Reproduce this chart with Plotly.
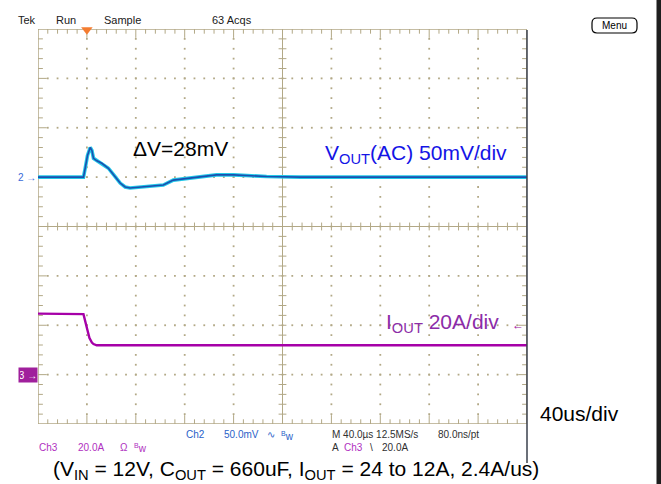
import plotly.graph_objects as go

# ---------------- data ----------------
vout_time_us = [-40, -2.8, -1.4, 0.5, 2.7, 4.1, 5.4, 8.2, 12.2, 17.6, 23.1, 27.2, 31.3,
                35.3, 49, 62.5, 70.7, 89.8, 106, 120, 147, 175, 360]
vout_mV = [0, 0, 9, 22, 30, 27, 19, 16.5, 14, 9, 0.5, -6, -10,
           -11, -9.5, -8, -3, -0.5, 2.3, 2.3, 0.6, 0, 0]

iout_time_us = [-40, -2.8, 0, 2.1, 4.1, 5.4, 8, 360]
iout_A = [24.7, 24.5, 18.9, 14.8, 13.0, 12.4, 11.9, 11.9]

# scope settings
time_per_div_us = 40
trigger_div = 1
vout_mV_per_div = 50
vout_offset_div = 1
iout_A_per_div = 20
iout_offset_div = -3
trig_level_A = 20
n_xdiv, n_ydiv = 10, 8

# ---------------- layout geometry ----------------
W, H = 661, 484
L, R, T, B = 38, 134, 29, 60
PW, PH = W - L - R, H - T - B

def px(x, y):
    return (x - L) / PW, (H - B - y) / PH

TAN = "#b2a886"
FONT = "Liberation Sans, Arial, sans-serif"

# ---------------- graticule (division units) ----------------
gx, gy = [], []
def seg(x0, y0, x1, y1):
    gx.extend([x0, x1, None]); gy.extend([y0, y1, None])

xmaj_len_y, xmin_len_y = 0.18, 0.095
ymaj_len_x, ymin_len_x = 0.18, 0.10
for k in range(1, n_xdiv * 5):
    x = k * 0.2
    ly = xmaj_len_y if k % 5 == 0 else xmin_len_y
    seg(x, 4, x, 4 - ly)
    seg(x, -4, x, -4 + ly)
    seg(x, -0.08, x, 0.08)
for j in range(1, n_ydiv * 5):
    y = -4 + j * 0.2
    lx = ymaj_len_x if j % 5 == 0 else ymin_len_x
    seg(0, y, lx, y)
    seg(10, y, 10 - lx, y)
    seg(5 - 0.08, y, 5 + 0.08, y)
seg(5, -4, 5, 4)
seg(0, 0, 10, 0)

bx = [0, 10, 10, 0, 0]
by = [-4, -4, 4, 4, -4]

dx, dy = [], []
for xv in range(1, n_xdiv):
    if xv == 5:
        continue
    for j in range(1, n_ydiv * 5):
        dx.append(xv); dy.append(-4 + j * 0.2)
for yv in range(-3, 4):
    if yv == 0:
        continue
    for k in range(1, n_xdiv * 5):
        dx.append(k * 0.2); dy.append(yv)

fig = go.Figure()
fig.add_trace(go.Scatter(x=dx, y=dy, mode="markers", xaxis="x", yaxis="y",
                         marker=dict(size=1.8, color=TAN, symbol="square"),
                         hoverinfo="skip", showlegend=False))
fig.add_trace(go.Scatter(x=gx, y=gy, mode="lines", xaxis="x", yaxis="y",
                         line=dict(color=TAN, width=1), cliponaxis=False,
                         hoverinfo="skip", showlegend=False))
fig.add_trace(go.Scatter(x=bx, y=by, mode="lines", xaxis="x", yaxis="y",
                         line=dict(color=TAN, width=1.5), cliponaxis=False,
                         hoverinfo="skip", showlegend=False))
# trigger position marker
fig.add_trace(go.Scatter(x=[trigger_div], y=[3.985], mode="markers", xaxis="x", yaxis="y",
                         marker=dict(symbol="triangle-down", size=10, color="#f47c30"),
                         cliponaxis=False, hoverinfo="skip", showlegend=False))

# ---------------- waveforms ----------------
fig.add_trace(go.Scatter(x=vout_time_us, y=vout_mV, mode="lines", xaxis="x2", yaxis="y2",
                         line=dict(color="#22c8e8", width=3.6), showlegend=False))
fig.add_trace(go.Scatter(x=vout_time_us, y=vout_mV, mode="lines", xaxis="x2", yaxis="y2",
                         line=dict(color="#1a4fb0", width=1.6), showlegend=False))
fig.add_trace(go.Scatter(x=iout_time_us, y=iout_A, mode="lines", xaxis="x2", yaxis="y3",
                         line=dict(color="#a600a8", width=2.4), showlegend=False))

t0 = -trigger_div * time_per_div_us
vlo = (-4 - vout_offset_div) * vout_mV_per_div
ilo = (-4 - iout_offset_div) * iout_A_per_div
hidden = dict(showgrid=False, zeroline=False, showticklabels=False, ticks="", showline=False)
fig.update_layout(
    width=W, height=H, margin=dict(l=L, r=R, t=T, b=B),
    paper_bgcolor="white", plot_bgcolor="white",
    xaxis=dict(range=[0, n_xdiv], **hidden),
    yaxis=dict(range=[-4, 4], **hidden),
    xaxis2=dict(range=[t0, t0 + n_xdiv * time_per_div_us], overlaying="x", anchor="y2", **hidden),
    yaxis2=dict(range=[vlo, vlo + n_ydiv * vout_mV_per_div], overlaying="y", anchor="x2", **hidden),
    yaxis3=dict(range=[ilo, ilo + n_ydiv * iout_A_per_div], overlaying="y", anchor="x2", **hidden),
    showlegend=False,
)

# ---------------- text ----------------
ann = []
def text(s, x, y, size, color="#000000", xanchor="left", **kw):
    xp, yp = px(x, y)
    ann.append(dict(text=s, x=xp, y=yp, xref="paper", yref="paper", xanchor=xanchor,
                    yanchor="middle", showarrow=False,
                    font=dict(family=FONT, size=size, color=color), **kw))

# header
for s, x in [("Tek", 16), ("Run", 54), ("Sample", 102), ("63 Acqs", 210)]:
    text(s, x, 20, 11, "#202020")
text("Menu", 614.5, 26, 10, "#000000", xanchor="center")

# big labels
text("ΔV=28mV", 131, 148, 21)
text("V<sub>OUT</sub>(AC) 50mV/div", 323, 154, 21, "#1414e6")
text("I<sub>OUT</sub> 20A/div", 384, 323, 21, "#8c2ca8")
text("40us/div", 538, 413, 21)
text("(V<sub>IN</sub> = 12V, C<sub>OUT</sub> = 660uF, I<sub>OUT</sub> = 24 to 12A, 2.4A/us)",
     51, 470, 21)

# scope readouts
BL = "#2a5fc8"; PU = "#b030c0"; DK = "#303030"
text("Ch2", 184, 435, 10, BL)
text("50.0mV", 222, 435, 10, BL)
text("∿", 265, 435, 10, BL)
text("<sup>B</sup>w", 279, 436, 10, BL)
text("Ch3", 37, 447, 10, PU)
text("20.0A", 76, 447, 10, PU)
text("Ω", 118, 447, 10, PU)
text("<sup>B</sup>w", 132, 448, 10, PU)
text("M 40.0µs 12.5MS/s", 330, 435, 10, DK)
text("80.0ns/pt", 436, 435, 10, DK)
text("A", 330, 447, 10, DK)
text("Ch3", 342, 447, 10, PU)
text("\\", 368, 447, 10, DK)
text("20.0A", 380, 447, 10, DK)

# channel markers anchored to the graticule
ann.append(dict(text="2 →", x=px(38, 0)[0], y=vout_offset_div, xref="paper", yref="y",
                xanchor="right", yanchor="middle", showarrow=False,
                font=dict(family=FONT, size=10, color="#3a6ad8")))
ann.append(dict(text="3 →", x=px(37.5, 0)[0], y=iout_offset_div, xref="paper", yref="y",
                xanchor="right", yanchor="middle", showarrow=False, bgcolor="#a0209c",
                width=16, height=12, borderpad=1,
                font=dict(family=FONT, size=10, color="white")))
trig_div = iout_offset_div + trig_level_A / iout_A_per_div
ann.append(dict(text="←", x=px(526, 0)[0], y=trig_div, xref="paper", yref="y",
                xanchor="right", yanchor="middle", showarrow=False,
                font=dict(family=FONT, size=12, color="#a010a0")))
fig.update_layout(annotations=ann)

# ---------------- frame elements ----------------
x527, _ = px(527, 0)
_, y30 = px(0, 30)
_, y463 = px(0, 463)
x657, _ = px(656.5, 0)
x661, _ = px(662, 0)
mx0, my0 = px(592, 18)
mx1, my1 = px(637, 33)
rx = 5 / PW; ry = 5 / PH
menu_path = (f"M {mx0+rx},{my0} L {mx1-rx},{my0} Q {mx1},{my0} {mx1},{my0-ry} "
             f"L {mx1},{my1+ry} Q {mx1},{my1} {mx1-rx},{my1} L {mx0+rx},{my1} "
             f"Q {mx0},{my1} {mx0},{my1+ry} L {mx0},{my0-ry} Q {mx0},{my0} {mx0+rx},{my0} Z")
fig.update_layout(shapes=[
    dict(type="line", xref="paper", yref="paper", x0=x527, x1=x527, y0=y30, y1=y463,
         line=dict(color="#3a404c", width=1.5)),
    dict(type="rect", xref="paper", yref="paper", x0=x657, x1=x661, y0=-0.3, y1=1.2,
         fillcolor="#1e1e1e", line=dict(width=0)),
    dict(type="path", xref="paper", yref="paper", path=menu_path,
         line=dict(color="#000000", width=1.2)),
])

fig.write_html("out.html", config={"displayModeBar": False},
               post_script="document.body.style.margin='0';document.body.style.overflow='hidden';")
